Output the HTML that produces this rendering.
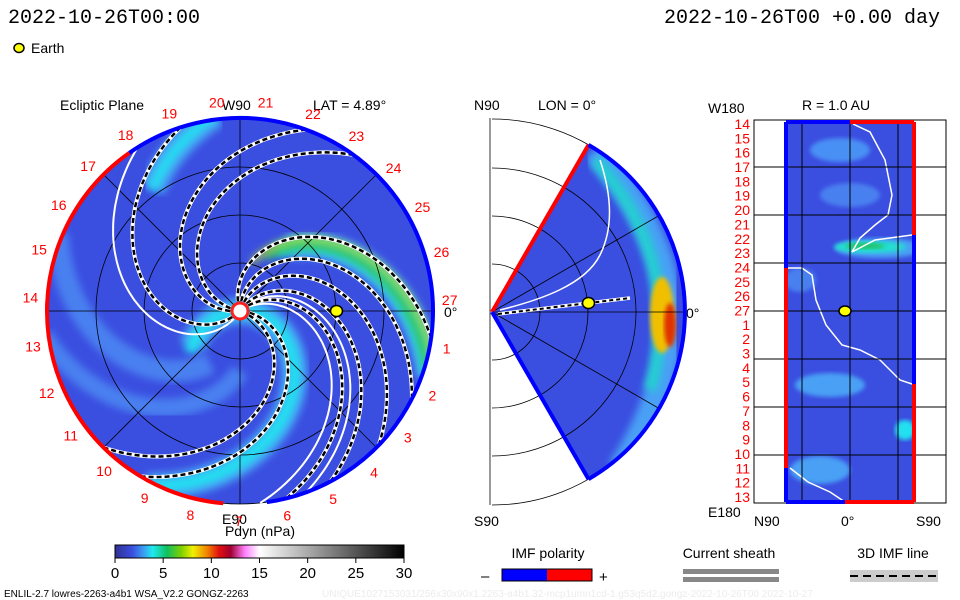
<!DOCTYPE html>
<html><head><meta charset="utf-8"><style>
body{margin:0;background:#fff;}
svg{display:block;font-family:"Liberation Sans",sans-serif;}
</style></head><body>
<svg id="s" width="960" height="600" viewBox="0 0 960 600">
<defs>
<linearGradient id="cb" x1="0" x2="1" y1="0" y2="0">
<stop offset="0" stop-color="#303090"/><stop offset="0.06" stop-color="#3a4fe0"/><stop offset="0.1" stop-color="#3aa0f0"/><stop offset="0.13" stop-color="#20e8f0"/><stop offset="0.18" stop-color="#10c060"/><stop offset="0.23" stop-color="#80d000"/><stop offset="0.27" stop-color="#f0f000"/><stop offset="0.32" stop-color="#f08000"/><stop offset="0.36" stop-color="#e01010"/><stop offset="0.4" stop-color="#a00030"/><stop offset="0.45" stop-color="#ff80ff"/><stop offset="0.5" stop-color="#ffffff"/><stop offset="1" stop-color="#000000"/>
</linearGradient>
<clipPath id="disk"><circle cx="240" cy="311" r="193"/></clipPath>
<clipPath id="wedge"><path d="M492,312 L588.5,144.9 A193,193 0 0 1 588.5,479.1 Z"/></clipPath>
<clipPath id="rclip"><rect x="786" y="122" width="128" height="380"/></clipPath>
<filter id="bl"><feGaussianBlur stdDeviation="4"/></filter>
<filter id="bl2"><feGaussianBlur stdDeviation="2"/></filter>
</defs>

<text x="8" y="23" font-size="20" font-family="Liberation Mono, monospace">2022-10-26T00:00</text>
<text x="940" y="23" font-size="20" text-anchor="end" font-family="Liberation Mono, monospace">2022-10-26T00 +0.00 day</text>
<ellipse cx="19" cy="48" rx="5" ry="4.5" fill="#ffff00" stroke="#000" stroke-width="1.5"/>
<text x="31" y="53" font-size="14">Earth</text>

<text x="60" y="110" font-size="14">Ecliptic Plane</text>
<text x="313" y="110" font-size="14">LAT = 4.89°</text>
<text x="222" y="110" font-size="14">W90</text>
<text x="222" y="524" font-size="14">E90</text>
<text x="444" y="317" font-size="14">0°</text>
<g clip-path="url(#disk)" id="diskg">
<circle cx="240" cy="311" r="193" fill="#3a4ee0"/>
</g>
<g id="eclgrid" fill="none" stroke="#000" stroke-width="0.8"></g>
<g id="eclOverlay"></g>
<g id="dayLabelsG" font-size="14" fill="#ff0000"></g>

<text x="474" y="110" font-size="14">N90</text>
<text x="538" y="110" font-size="14">LON = 0°</text>
<text x="474" y="526" font-size="14">S90</text>
<text x="686" y="318" font-size="14">0°</text>
<g id="merg"></g>

<text x="802" y="110" font-size="14">R = 1.0 AU</text>
<text x="708" y="113" font-size="14">W180</text>
<text x="708" y="517" font-size="14">E180</text>
<text x="754" y="526" font-size="14">N90</text>
<text x="841" y="526" font-size="14">0°</text>
<text x="916" y="526" font-size="14">S90</text>
<g id="rg"></g>

<text x="260" y="536" font-size="14" text-anchor="middle">Pdyn (nPa)</text>
<rect x="115" y="545" width="289" height="13" fill="url(#cb)" stroke="#000"/>
<g id="cbt" font-size="15"></g>

<text x="548" y="558" font-size="14" text-anchor="middle">IMF polarity</text>
<text x="481" y="581" font-size="15">–</text>
<rect x="502" y="569" width="45" height="12" fill="#0000ff"/>
<rect x="547" y="569" width="45" height="12" fill="#ff0000"/>
<rect x="502" y="569" width="90" height="12" fill="none" stroke="#000"/>
<text x="599" y="582" font-size="15">+</text>
<text x="729" y="558" font-size="14" text-anchor="middle">Current sheath</text>
<rect x="683" y="569" width="96" height="5" fill="#888"/>
<rect x="683" y="577" width="96" height="5" fill="#888"/>
<text x="893" y="558" font-size="14" text-anchor="middle">3D IMF line</text>
<rect x="850" y="570" width="88" height="12" fill="#ccc"/>
<line x1="850" y1="576" x2="938" y2="576" stroke="#000" stroke-width="2" stroke-dasharray="8,5"/>
<text x="4" y="597" font-size="10">ENLIL-2.7 lowres-2263-a4b1 WSA_V2.2 GONGZ-2263</text>
<text x="322" y="597" font-size="10" fill="#ececec">UNIQUE1027153031/256x30x90x1.2263-a4b1.32-mcp1umn1cd-1.g53q5d2.gongz-2022-10-26T00    2022-10-27</text>
</svg>
<script>
const colorbarTicks=[0,5,10,15,20,25,30];
const dayLabels=[27,26,25,24,23,22,21,20,19,18,17,16,15,14,13,12,11,10,9,8,7,6,5,4,3,2,1];
const spiralEnds=[108,70,54,-8,-27,-44,-62,-76,-121,-135];
const sectorEnds=[122,-70,-84];
const rightLabels=[14,15,16,17,18,19,20,21,22,23,24,25,26,27,1,2,3,4,5,6,7,8,9,10,11,12,13];
const earthR=0.5, earthLon=0;

const NS="http://www.w3.org/2000/svg";
function mk(t,a,p){const e=document.createElementNS(NS,t);for(const k in a)e.setAttribute(k,a[k]);p.appendChild(e);return e;}
const cx=240,cy=311,R=193,K=0.6;
function pt(a,r){const t=a*Math.PI/180;return [cx+r*Math.cos(t),cy-r*Math.sin(t)];}
function spiral(end,r0,r1){let d="";for(let r=r0;r<=r1;r+=3){const p=pt(end+K*(R-r),r);d+=(d?"L":"M")+p[0].toFixed(1)+","+p[1].toFixed(1);}return d;}

const dg=document.getElementById('diskg');
const bands=[[100,150,"#4aa0f5",26],[100,150,"#20e0f0",10],[-115,-60,"#4aa0f5",26],[-115,-65,"#20e0f0",12],[-15,80,"#4aa0f5",26],[-15,70,"#20e0e0",14],[-15,60,"#30c070",9],[-10,50,"#c0e020",5],[160,60,"#4a80f0",22],[-170,60,"#4a80f0",18]];
bands.forEach((b,i)=>{const e=mk('path',{d:spiral(b[0],b[1],200),fill:"none",stroke:b[2],"stroke-width":b[3],filter:"url(#bl)"},dg);

});

const gg=document.getElementById('eclgrid');
[48,96,144,193].forEach(r=>mk('circle',{cx,cy,r},gg));
[0,45,90,135].forEach(a=>{const p=pt(a,R),q=pt(a+180,R);mk('line',{x1:p[0],y1:p[1],x2:q[0],y2:q[1]},gg);});

const ov=document.getElementById('eclOverlay');
sectorEnds.forEach(a=>{const e=mk('path',{d:spiral(a,10,193),fill:"none",stroke:"#fff","stroke-width":2},ov);

});
spiralEnds.forEach(a=>{const d=spiral(a,10,193);
const e1=mk('path',{d,fill:"none",stroke:"#fff","stroke-width":4},ov);


const e2=mk('path',{d,fill:"none",stroke:"#000","stroke-width":2.5,"stroke-dasharray":"5,3"},ov);

});
function arc(a0,a1,r){const p=pt(a0,r),q=pt(a1,r);const large=Math.abs(a1-a0)>180?1:0;return `M${p[0]},${p[1]} A${r},${r} 0 ${large} 1 ${q[0]},${q[1]}`;}
const ab=mk('path',{d:arc(125,-82,193),fill:"none",stroke:"#0000ff","stroke-width":4},ov);


const ar=mk('path',{d:arc(265,125,193),fill:"none",stroke:"#ff0000","stroke-width":4},ov);


const sun=mk('circle',{cx,cy,r:8,fill:"#fff",stroke:"#ff2020","stroke-width":3},ov);


const ep=pt(earthLon,earthR*R);
const earth=mk('ellipse',{cx:ep[0],cy:ep[1],rx:6,ry:5.5,fill:"#ffff00",stroke:"#000","stroke-width":1.5},ov);



const dl=document.getElementById('dayLabelsG');
dayLabels.forEach((d,i)=>{const a=3+i*360/27;const p=pt(a,210);
const t=mk('text',{x:p[0],y:p[1]+5,"text-anchor":"middle"},dl);t.textContent=d;

});

const mg=document.getElementById('merg');
const mcx=492,mcy=312;
const wf=mk('g',{"clip-path":"url(#wedge)"},mg);
mk('rect',{x:480,y:130,width:220,height:370,fill:"#3a4ee0"},wf);
mk('path',{d:"M595,150 Q640,200 660,260 Q680,330 655,400 Q640,440 620,470",fill:"none",stroke:"#4aa0f5","stroke-width":26,filter:"url(#bl)"},wf);
mk('path',{d:"M595,160 Q635,205 650,255 Q670,320 650,390",fill:"none",stroke:"#20d0d0","stroke-width":12,filter:"url(#bl)"},wf);
mk('ellipse',{cx:662,cy:315,rx:12,ry:38,fill:"#f0c000",filter:"url(#bl2)"},wf);
mk('ellipse',{cx:670,cy:325,rx:6,ry:22,fill:"#e03000",filter:"url(#bl2)"},wf);
const mgr=mk('g',{fill:"none",stroke:"#000","stroke-width":0.8},mg);
[48,96,144,193].forEach(r=>{const a=[mcx,mcy-r],b=[mcx,mcy+r];mk('path',{d:`M${a[0]},${a[1]} A${r},${r} 0 0 1 ${b[0]},${b[1]}`},mgr);});
mk('line',{x1:490,y1:118,x2:490,y2:505},mgr);
[60,30,0,-30,-60].forEach(a=>{const t=a*Math.PI/180;mk('line',{x1:mcx,y1:mcy,x2:mcx+193*Math.cos(t),y2:mcy-193*Math.sin(t)},mgr);});
mk('path',{d:"M500,310 C540,300 585,285 600,255 S610,190 600,160",fill:"none",stroke:"#fff","stroke-width":1.5},mg);
mk('path',{d:"M498,314 L630,298",fill:"none",stroke:"#fff","stroke-width":3.5},mg);
mk('path',{d:"M498,314 L630,298",fill:"none",stroke:"#000","stroke-width":2,"stroke-dasharray":"4,3"},mg);
const m1=[mcx+96.5,mcy-167.1],m2=[mcx+96.5,mcy+167.1];
mk('line',{x1:mcx,y1:mcy,x2:m1[0],y2:m1[1],stroke:"#ff0000","stroke-width":4},mg);
mk('line',{x1:mcx,y1:mcy,x2:m2[0],y2:m2[1],stroke:"#0000ff","stroke-width":4},mg);
mk('path',{d:`M${m1[0]},${m1[1]} A193,193 0 0 1 ${m2[0]},${m2[1]}`,fill:"none",stroke:"#0000ff","stroke-width":4},mg);
const me=mk('ellipse',{cx:mcx+earthR*R,cy:303,rx:6,ry:5.5,fill:"#ffff00",stroke:"#000","stroke-width":1.5},mg);



const rg=document.getElementById('rg');
const x0=786,x1=914,y0=122,y1=502;
const rc=mk('g',{"clip-path":"url(#rclip)"},rg);
mk('rect',{x:x0,y:y0,width:x1-x0,height:y1-y0,fill:"#3a4ee0"},rc);
[[840,150,"#4a90f5",30,12],[850,195,"#4a80f0",30,12],[880,248,"#4aa0f5",45,10],[870,247,"#20e0d0",36,6],[865,246,"#20c060",20,3],[830,385,"#4aa0f5",35,12],[905,430,"#20e0f0",10,10],[820,470,"#4aa0f5",30,14],[800,280,"#4a80f0",16,12]].forEach(b=>mk('ellipse',{cx:b[0],cy:b[1],rx:b[3],ry:b[4],fill:b[2],filter:"url(#bl2)"},rc));
mk('path',{d:"M853,124 L870,132 L885,160 L892,195 L888,215 L875,225 L860,238 L852,252",fill:"none",stroke:"#fff","stroke-width":1.5},rg);
mk('path',{d:"M852,252 L875,240 L912,235",fill:"none",stroke:"#fff","stroke-width":1.5},rg);
mk('path',{d:"M788,268 L802,268 L812,275 L816,300 L826,325 L842,345 L860,350 L880,360 L900,380 L912,384",fill:"none",stroke:"#fff","stroke-width":1.5},rg);
mk('path',{d:"M790,468 L808,482 L830,492 L845,502",fill:"none",stroke:"#fff","stroke-width":1.5},rg);
mk('rect',{x:754,y:120,width:192,height:383,fill:"none",stroke:"#000"},rg);
[167,215,263,311,359,407,455].forEach(y=>mk('line',{x1:754,y1:y,x2:946,y2:y,stroke:"#000"},rg));
[802,850,898].forEach(x=>mk('line',{x1:x,y1:120,x2:x,y2:503,stroke:"#000"},rg));
mk('line',{x1:x0,y1:y0,x2:x0,y2:268,stroke:"#0000ff","stroke-width":4},rg);
mk('line',{x1:x0,y1:268,x2:x0,y2:468,stroke:"#ff0000","stroke-width":4},rg);
mk('line',{x1:x0,y1:468,x2:x0,y2:y1,stroke:"#0000ff","stroke-width":4},rg);
mk('line',{x1:x1,y1:y0,x2:x1,y2:235,stroke:"#ff0000","stroke-width":4},rg);
mk('line',{x1:x1,y1:235,x2:x1,y2:384,stroke:"#0000ff","stroke-width":4},rg);
mk('line',{x1:x1,y1:384,x2:x1,y2:y1,stroke:"#ff0000","stroke-width":4},rg);
mk('line',{x1:x0,y1:y0,x2:850,y2:y0,stroke:"#0000ff","stroke-width":4},rg);
mk('line',{x1:850,y1:y0,x2:x1,y2:y0,stroke:"#ff0000","stroke-width":4},rg);
mk('line',{x1:x0,y1:y1,x2:845,y2:y1,stroke:"#0000ff","stroke-width":4},rg);
mk('line',{x1:845,y1:y1,x2:x1,y2:y1,stroke:"#ff0000","stroke-width":4},rg);
const re=mk('ellipse',{cx:845,cy:311,rx:6,ry:5,fill:"#ffff00",stroke:"#000","stroke-width":1.5},rg);


rightLabels.forEach((d,i)=>{const y=124+i*(373/26);
const t=mk('text',{x:750,y:y+5,"text-anchor":"end","font-size":14,fill:"#ff0000"},rg);t.textContent=d;

});

const cbt=document.getElementById('cbt');
colorbarTicks.forEach(v=>{const x=115+v/30*289;
mk('line',{x1:x,y1:558,x2:x,y2:563,stroke:"#000"},cbt);
const t=mk('text',{x,y:578,"text-anchor":"middle"},cbt);t.textContent=v;

});
</script>
</body></html>
